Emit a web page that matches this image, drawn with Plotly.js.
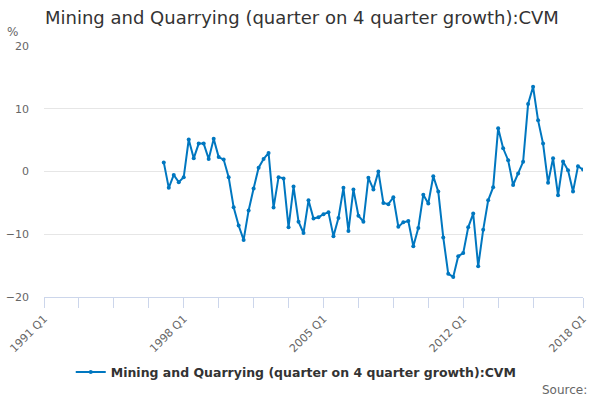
<!DOCTYPE html>
<html>
<head>
<meta charset="utf-8">
<script src="https://cdn.plot.ly/plotly-3.0.1.min.js"></script>
<style>
  html, body { margin: 0; padding: 0; background: #fff; }
  #chart { width: 600px; height: 400px; }
</style>
</head>
<body>
<div id="chart"></div>
<script>
  // quarter labels, 1991 Q1 .. 2018 Q1
  let firstYear = 1991;
  let lastYear = 2018;
  let quarters = [];
  for (let y = firstYear; y <= lastYear; y++) {
    for (let q = 1; q <= 4; q++) {
      if (y === lastYear && q > 1) break;
      quarters.push(y + " Q" + q);
    }
  }

  // series starts in 1997 Q1
  let seriesStart = "1997 Q1";
  let growth = [
    1.45, -2.6, -0.55, -1.7,
    -0.9, 5.1, 2.1, 4.45,
    4.45, 2.0, 5.2, 2.3,
    1.9, -0.9, -5.7, -8.6,
    -10.9, -6.2, -2.7, 0.6,
    2.0, 2.95, -5.75, -0.9,
    -1.1, -8.9, -2.4, -8.0,
    -9.8, -4.6, -7.5, -7.3,
    -6.8, -6.5, -10.3, -7.4,
    -2.6, -9.5, -2.85, -7.05,
    -8.0, -1.0, -2.85, 0.0,
    -5.0, -5.2, -4.1, -8.8,
    -8.1, -7.9, -11.9, -9.0,
    -3.7, -5.1, -0.75, -3.2,
    -10.5, -16.3, -16.8, -13.5,
    -13.0, -8.9, -6.7, -15.1,
    -9.3, -4.6, -2.5, 6.9,
    3.7, 1.8, -2.15, -0.3,
    1.55, 10.75, 13.5, 8.15,
    4.45, -1.8, 2.1, -3.8,
    1.6, 0.2, -3.2, 0.85,
    0.3
  ];

  let tickQuarters = ["1991 Q1", "1992 Q4", "1994 Q3", "1996 Q2", "1998 Q1", "1999 Q4",
    "2001 Q3", "2003 Q2", "2005 Q1", "2006 Q4", "2008 Q3", "2010 Q2", "2012 Q1",
    "2013 Q4", "2015 Q3", "2018 Q1"];
  let labelledQuarters = ["1991 Q1", "1998 Q1", "2005 Q1", "2012 Q1", "2018 Q1"];

  let seriesName = "Mining and Quarrying (quarter on 4 quarter growth):CVM";

  let startIdx = quarters.indexOf(seriesStart);
  let xs = quarters.slice(startIdx, startIdx + growth.length);

  let traces = [
    {
      x: xs,
      y: growth,
      name: seriesName,
      type: "scatter",
      mode: "lines+markers",
      line: { color: "#0077c0", width: 2 },
      marker: { color: "#0077c0", size: 4 },
      showlegend: true
    }
  ];

  let layout = {
    width: 600,
    height: 400,
    margin: { l: 44, r: 17, t: 46, b: 103 },
    paper_bgcolor: "#fff",
    plot_bgcolor: "#fff",
    font: { family: "DejaVu Sans, sans-serif", color: "#666", size: 11 },
    title: {
      text: seriesName,
      xref: "container", yref: "container",
      x: 45 / 600, xanchor: "left",
      y: 1 - 18 / 400, yanchor: "middle",
      font: { family: "DejaVu Sans, sans-serif", size: 18, color: "#333" }
    },
    xaxis: {
      type: "category",
      categoryorder: "array",
      categoryarray: quarters,
      range: [0, quarters.length - 1],
      tickmode: "array",
      tickvals: tickQuarters,
      ticktext: tickQuarters.map(t => labelledQuarters.includes(t) ? t : ""),
      tickangle: -45,
      ticks: "outside",
      ticklen: 10,
      tickcolor: "#ccd6eb",
      showline: true,
      linecolor: "#ccd6eb",
      linewidth: 1,
      showgrid: false,
      zeroline: false,
      fixedrange: true
    },
    yaxis: {
      range: [-20, 20],
      tickvals: [-20, -10, 0, 10, 20],
      showgrid: true,
      gridcolor: "#e6e6e6",
      zeroline: false,
      showline: false,
      ticks: "",
      ticklabelstandoff: 14,
      fixedrange: true
    },
    legend: {
      orientation: "h",
      x: 0.468, xanchor: "center",
      y: -0.30, yanchor: "middle",
      itemwidth: 30,
      font: { family: "DejaVu Sans, sans-serif", size: 12.5, color: "#333", weight: "bold" }
    },
    annotations: [
      {
        text: "%", xref: "paper", yref: "paper",
        x: -0.045, y: 1.056, xanchor: "right", yanchor: "middle",
        showarrow: false, font: { size: 12, color: "#666" }
      },
      {
        text: "Source:", xref: "paper", yref: "paper",
        x: 1.012, y: -0.37, xanchor: "right", yanchor: "middle",
        showarrow: false, font: { size: 12, color: "#666" }
      }
    ]
  };

  Plotly.newPlot(document.getElementById("chart"), traces, layout, { displayModeBar: false, staticPlot: true });
</script>
</body>
</html>
